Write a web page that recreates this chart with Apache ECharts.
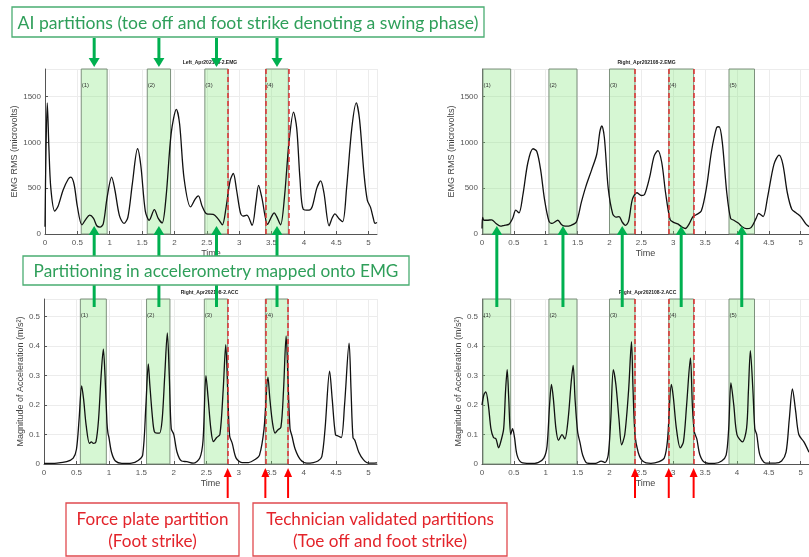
<!DOCTYPE html>
<html>
<head>
<meta charset="utf-8">
<script src="https://cdn.jsdelivr.net/npm/echarts@6/dist/echarts.min.js"></script>
<style>
  html, body { margin: 0; background: #fff; }
  #chart { width: 809px; height: 557px; }
</style>
</head>
<body>
<div id="chart"></div>
<script>
// EMG RMS (microvolts) against time (s)
const leftEmg = [[0,80],[0.015,900],[0.035,1430],[0.06,950],[0.09,500],[0.15,250],[0.2,300],[0.28,480],[0.36,600],[0.4,620],[0.45,540],[0.5,300],[0.57,100],[0.63,160],[0.69,205],[0.75,170],[0.8,90],[0.85,75],[0.9,110],[0.96,400],[1.03,620],[1.08,480],[1.15,200],[1.22,115],[1.28,180],[1.35,550],[1.43,930],[1.48,750],[1.55,250],[1.61,150],[1.69,265],[1.75,170],[1.81,120],[1.87,400],[1.95,1100],[2.03,1360],[2.08,1200],[2.15,600],[2.25,295],[2.32,380],[2.37,415],[2.43,300],[2.5,220],[2.6,215],[2.68,160],[2.74,100],[2.8,300],[2.86,580],[2.91,660],[2.96,480],[3.02,230],[3.06,195],[3.12,205],[3.2,95],[3.26,350],[3.3,530],[3.35,400],[3.44,105],[3.5,190],[3.54,230],[3.58,190],[3.64,100],[3.7,400],[3.77,1000],[3.84,1330],[3.89,1150],[3.94,600],[3.99,270],[4.08,260],[4.13,300],[4.2,500],[4.26,580],[4.31,450],[4.39,90],[4.44,180],[4.48,220],[4.54,170],[4.6,135],[4.66,500],[4.74,1150],[4.81,1430],[4.86,1250],[4.93,650],[4.98,370],[5.03,290],[5.07,180],[5.1,115],[5.13,125]];
const rightEmg = [[0,60],[0.01,180],[0.03,150],[0.08,150],[0.15,155],[0.22,115],[0.29,85],[0.35,95],[0.42,105],[0.48,170],[0.53,260],[0.58,230],[0.64,420],[0.72,780],[0.8,930],[0.86,900],[0.92,700],[0.98,380],[1.05,140],[1.1,115],[1.19,150],[1.25,100],[1.31,85],[1.4,95],[1.48,130],[1.56,350],[1.63,520],[1.72,700],[1.8,870],[1.85,1120],[1.88,1180],[1.92,1050],[1.98,500],[2.05,220],[2.1,185],[2.15,190],[2.2,130],[2.25,95],[2.3,140],[2.36,380],[2.43,450],[2.5,420],[2.55,430],[2.63,620],[2.7,850],[2.76,910],[2.82,780],[2.88,450],[2.95,160],[3.0,130],[3.07,110],[3.13,80],[3.19,60],[3.25,110],[3.31,190],[3.36,210],[3.44,250],[3.52,500],[3.6,900],[3.68,1160],[3.72,1170],[3.77,1000],[3.84,450],[3.9,170],[3.95,150],[4.02,120],[4.08,80],[4.15,58],[4.22,70],[4.3,170],[4.34,225],[4.41,190],[4.48,400],[4.58,760],[4.66,860],[4.72,760],[4.79,450],[4.86,270],[4.93,230],[5.0,190],[5.08,110],[5.13,80]];

// Magnitude of acceleration (m/s^2) against time (s)
const leftAcc = [[0,0.002],[0.2,0.003],[0.35,0.008],[0.45,0.02],[0.5,0.05],[0.54,0.15],[0.58,0.265],[0.61,0.22],[0.65,0.13],[0.7,0.07],[0.73,0.075],[0.76,0.07],[0.8,0.075],[0.84,0.15],[0.88,0.3],[0.914,0.39],[0.94,0.3],[0.97,0.14],[0.985,0.105],[1.0,0.09],[1.04,0.04],[1.1,0.01],[1.2,0.002],[1.35,0.003],[1.45,0.012],[1.52,0.03],[1.57,0.2],[1.607,0.34],[1.63,0.27],[1.67,0.16],[1.7,0.11],[1.74,0.105],[1.78,0.105],[1.82,0.15],[1.86,0.3],[1.9,0.445],[1.93,0.3],[1.96,0.12],[2.0,0.1],[2.05,0.04],[2.12,0.01],[2.2,0.008],[2.3,0.003],[2.4,0.02],[2.45,0.08],[2.495,0.3],[2.53,0.22],[2.57,0.12],[2.61,0.076],[2.66,0.09],[2.71,0.1],[2.76,0.25],[2.8,0.405],[2.83,0.25],[2.86,0.095],[2.9,0.07],[2.96,0.02],[3.05,0.005],[3.15,0.005],[3.25,0.015],[3.32,0.03],[3.39,0.12],[3.45,0.295],[3.48,0.22],[3.52,0.14],[3.56,0.105],[3.6,0.115],[3.65,0.125],[3.69,0.25],[3.73,0.435],[3.76,0.28],[3.79,0.12],[3.82,0.095],[3.87,0.05],[3.95,0.015],[4.05,0.003],[4.15,0.005],[4.22,0.01],[4.28,0.025],[4.33,0.12],[4.4,0.315],[4.44,0.22],[4.49,0.1],[4.53,0.095],[4.58,0.09],[4.63,0.2],[4.7,0.41],[4.73,0.25],[4.76,0.09],[4.79,0.08],[4.85,0.04],[4.92,0.015],[5.0,0.003],[5.13,0.004]];
const rightAcc = [[0,0.2],[0.03,0.235],[0.06,0.245],[0.1,0.2],[0.14,0.12],[0.18,0.09],[0.22,0.085],[0.26,0.055],[0.3,0.08],[0.34,0.12],[0.37,0.25],[0.395,0.32],[0.42,0.22],[0.45,0.1],[0.48,0.12],[0.51,0.09],[0.55,0.03],[0.62,0.005],[0.75,0.002],[0.88,0.005],[0.97,0.02],[1.02,0.06],[1.06,0.2],[1.09,0.27],[1.12,0.22],[1.16,0.12],[1.2,0.08],[1.255,0.1],[1.3,0.085],[1.35,0.15],[1.4,0.28],[1.43,0.335],[1.46,0.22],[1.5,0.11],[1.54,0.07],[1.58,0.03],[1.65,0.003],[1.78,0.002],[1.87,0.01],[1.93,0.005],[1.98,0.03],[2.02,0.15],[2.06,0.32],[2.1,0.27],[2.15,0.15],[2.19,0.065],[2.24,0.1],[2.3,0.25],[2.345,0.415],[2.37,0.25],[2.4,0.1],[2.45,0.04],[2.52,0.01],[2.65,0.002],[2.78,0.008],[2.86,0.02],[2.91,0.08],[2.97,0.27],[3.0,0.23],[3.05,0.12],[3.11,0.055],[3.16,0.075],[3.21,0.2],[3.27,0.36],[3.3,0.2],[3.33,0.11],[3.37,0.085],[3.42,0.03],[3.5,0.005],[3.65,0.002],[3.76,0.01],[3.83,0.03],[3.87,0.12],[3.905,0.275],[3.95,0.2],[4.0,0.1],[4.085,0.075],[4.15,0.12],[4.18,0.25],[4.21,0.385],[4.25,0.25],[4.28,0.12],[4.31,0.1],[4.36,0.03],[4.45,0.003],[4.6,0.003],[4.7,0.01],[4.77,0.04],[4.82,0.15],[4.87,0.255],[4.92,0.18],[4.97,0.1],[5.05,0.075],[5.13,0.04]];

// swing phases (AI partitions), [toe off, foot strike]
const leftSwings = [[0.56, 0.96], [1.58, 1.94], [2.47, 2.83], [3.41, 3.76]];
const rightSwings = [[0.015, 0.45], [1.05, 1.49], [2.0, 2.4], [2.93, 3.32], [3.875, 4.275]];
// force plate / technician partitions (red dashed)
const leftRed = [2.83, 3.41, 3.76];
const rightRed = [2.4, 2.93, 3.32];

const titles = ['Left_Apr202108-2.EMG', 'Right_Apr202108-2.EMG', 'Right_Apr202108-2.ACC', 'Right_Apr202108-2.ACC'];
const tMax = 5.13;

const grids = [
  { left: 45, top: 69, width: 332, height: 165 },
  { left: 482, top: 69, width: 331, height: 165 },
  { left: 44, top: 299, width: 333, height: 165 },
  { left: 482, top: 299, width: 333, height: 165 }
];

const tickFont = { fontSize: 8, color: '#555', fontFamily: 'Liberation Sans' };
const nameFont = { fontSize: 9, color: '#444', fontFamily: 'Liberation Sans' };

function xAxis(i) {
  return {
    type: 'value', gridIndex: i, min: 0, max: tMax, interval: 0.5,
    name: 'Time', nameLocation: 'middle', nameGap: 15, nameTextStyle: nameFont,
    axisLine: { show: true, lineStyle: { color: '#555' } },
    axisTick: { show: true, inside: true, length: 3, lineStyle: { color: '#555' } },
    axisLabel: Object.assign({ margin: 5, showMaxLabel: false,
      formatter: v => (Math.abs(v * 2 - Math.round(v * 2)) < 1e-6 ? String(v) : '') }, tickFont),
    splitLine: { show: true, lineStyle: { color: '#ececec' } }
  };
}
function yAxis(i, name, max, interval, gap) {
  return {
    type: 'value', gridIndex: i, min: 0, max: max, interval: interval,
    name: name, nameLocation: 'middle', nameGap: gap, nameTextStyle: nameFont,
    axisLine: { show: true, lineStyle: { color: '#555' } },
    axisTick: { show: true, inside: true, length: 3, lineStyle: { color: '#555' } },
    axisLabel: Object.assign({ margin: 4, showMaxLabel: false, formatter: v => String(v) }, tickFont),
    splitLine: { show: true, lineStyle: { color: '#ececec' } }
  };
}
function curve(i, data, swings, reds) {
  return {
    type: 'line', xAxisIndex: i, yAxisIndex: i, data: data,
    smooth: 0.3, symbol: 'none',
    lineStyle: { color: '#111', width: 1.3 },
    markArea: {
      silent: true,
      itemStyle: { color: 'rgba(120,230,110,0.3)', borderColor: '#7d917d', borderWidth: 1 },
      label: { show: true, position: 'insideTopLeft', offset: [-4, 9], fontSize: 6, color: '#333' },
      data: swings.map((s, k) => [{ xAxis: s[0], name: '(' + (k + 1) + ')' }, { xAxis: s[1] }])
    },
    markLine: {
      silent: true, symbol: 'none',
      label: { show: false },
      lineStyle: { color: '#e03030', type: [5, 3], width: 1.5 },
      data: reds.map(v => ({ xAxis: v }))
    }
  };
}

const option = {
  animation: false,
  grid: grids,
  xAxis: [xAxis(0), xAxis(1), xAxis(2), xAxis(3)],
  yAxis: [
    yAxis(0, 'EMG RMS (microvolts)', 1800, 500, 19),
    yAxis(1, 'EMG RMS (microvolts)', 1800, 500, 22),
    yAxis(2, 'Magnitude of Acceleration (m/s²)', 0.56, 0.1, 14),
    yAxis(3, 'Magnitude of Acceleration (m/s²)', 0.56, 0.1, 17)
  ],
  series: [
    curve(0, leftEmg, leftSwings, leftRed),
    curve(1, rightEmg, rightSwings, rightRed),
    curve(2, leftAcc, leftSwings, leftRed),
    curve(3, rightAcc, rightSwings, rightRed)
  ]
};

const chart = echarts.init(document.getElementById('chart'));
chart.setOption(option);

// ---- annotations ----
const GREEN = '#00b050', GREEN_TXT = '#2f9f5a', GREEN_BOX = '#4aad72';
const RED = '#ff0000', RED_TXT = '#e3242b', RED_BOX = '#e04a4f';
const FONT = 'Lato';

const measure = document.createElement('canvas').getContext('2d');
function fit(text, w) {
  measure.font = '100px ' + FONT;
  return 100 * w / measure.measureText(text).width;
}
const px = (axis, t) => chart.convertToPixel({ xAxisIndex: axis }, t);
const mid = s => (s[0] + s[1]) / 2;

function arrow(x, yTail, yTip, color, w, headW, headL) {
  const dir = yTip > yTail ? 1 : -1;
  const base = yTip - dir * headL;
  return [
    { type: 'line', z: 100, shape: { x1: x, y1: yTail, x2: x, y2: base }, style: { stroke: color, lineWidth: w } },
    { type: 'polygon', z: 100, shape: { points: [[x - headW / 2, base], [x + headW / 2, base], [x, yTip]] }, style: { fill: color } }
  ];
}
function stem(x, y1, y2, color, w) {
  return { type: 'line', z: 100, shape: { x1: x, y1: y1, x2: x, y2: y2 }, style: { stroke: color, lineWidth: w } };
}
function box(x, y, w, h, stroke, lines, color, textW) {
  const size = fit(lines[0], textW);
  return [
    { type: 'rect', z: 110, shape: { x: x, y: y, width: w, height: h }, style: { fill: '#fff', stroke: stroke, lineWidth: 1.3 } },
    { type: 'text', z: 111, x: x + w / 2, y: y + h / 2 + 1,
      style: { text: lines.join('\n'), fill: color, fontSize: size, fontFamily: FONT, lineHeight: size * 1.28,
               align: 'center', verticalAlign: 'middle' } }
  ];
}

const g = [];
// plot titles
titles.forEach((t, i) => {
  const gr = grids[i];
  g.push({ type: 'text', z: 50, x: gr.left + gr.width / 2 - 1, y: gr.top - 4,
    style: { text: t, fill: '#222', fontSize: 5, fontWeight: 'bold', fontFamily: 'Liberation Sans',
             align: 'center', verticalAlign: 'bottom' } });
});
// AI partitions arrows (down onto left EMG), and the mapping arrows
leftSwings.forEach(s => {
  const x = px(0, mid(s));
  g.push(...arrow(x, 38, 67, GREEN, 3, 11, 9));
  g.push(...arrow(x, 257, 226, GREEN, 3, 11, 9));
  g.push(stem(x, 284, 307, GREEN, 3));
});
rightSwings.forEach(s => {
  const x = px(1, mid(s));
  g.push(...arrow(x, 307, 226, GREEN, 3, 11, 9));
});
// red arrows at force plate / technician partitions
leftRed.forEach(v => g.push(...arrow(px(2, v), 498, 468, RED, 2, 8, 9)));
rightRed.forEach(v => g.push(...arrow(px(3, v), 498, 468, RED, 2, 8, 9)));

g.push(...box(12, 7, 472, 30, GREEN_BOX, ['AI partitions (toe off and foot strike denoting a swing phase)'], GREEN_TXT, 461));
g.push(...box(23, 256, 386, 29, GREEN_BOX, ['Partitioning in accelerometry mapped onto EMG'], GREEN_TXT, 365));
g.push(...box(66, 503, 173, 53, RED_BOX, ['Force plate partition', '(Foot strike)'], RED_TXT, 152));
g.push(...box(253, 503, 254, 53, RED_BOX, ['Technician validated partitions', '(Toe off and foot strike)'], RED_TXT, 228));

chart.setOption({ graphic: g });
</script>
</body>
</html>
